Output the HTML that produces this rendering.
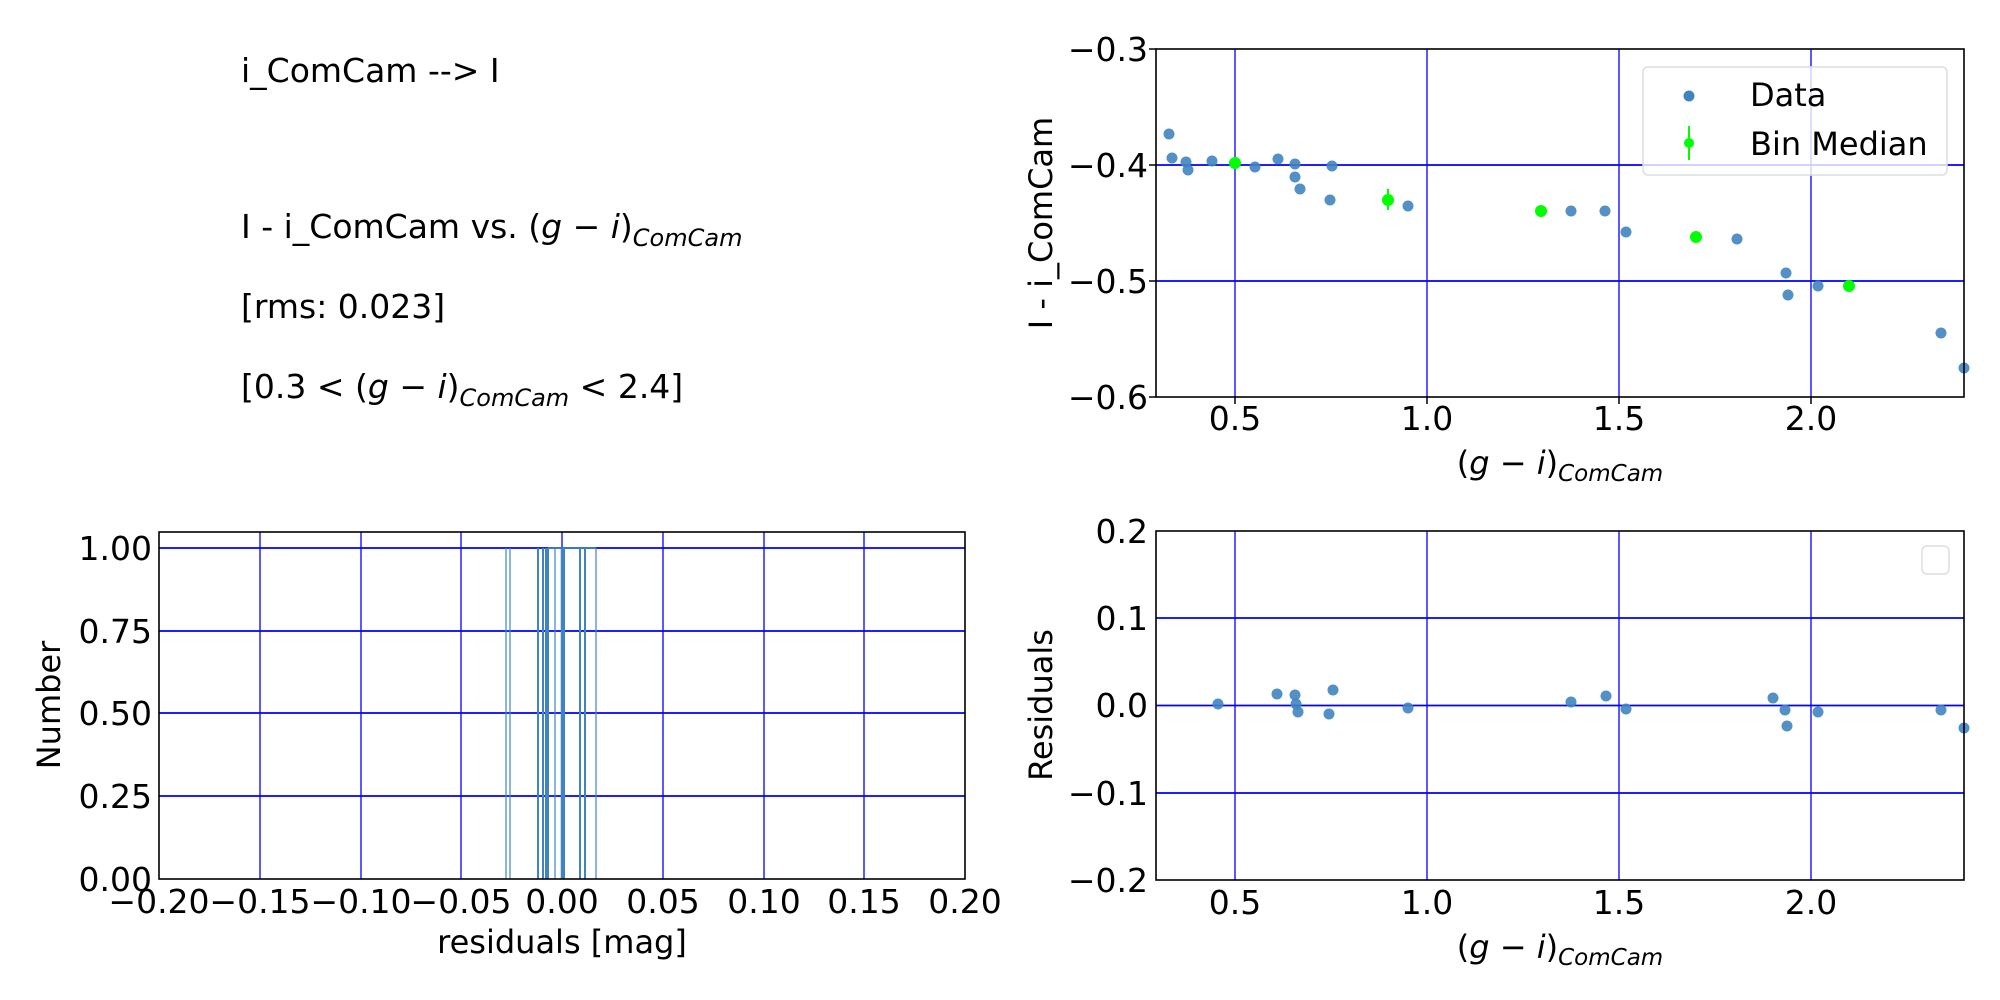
<!DOCTYPE html>
<html><head><meta charset="utf-8"><style>
html,body{margin:0;padding:0;background:#fff;width:2000px;height:1000px;overflow:hidden}
svg{display:block}
text{font-family:"DejaVu Sans","Liberation Sans",sans-serif;fill:#000}
.t{font-size:33px}
.k{font-size:33px}
.l{font-size:32px}
</style></head><body>
<svg width="2000" height="1000" viewBox="0 0 2000 1000" xmlns="http://www.w3.org/2000/svg">
<text class="t" x="241" y="82">i_ComCam --&gt; I</text>
<text class="t" x="241" y="238">I - i_ComCam vs. (<tspan font-style="italic">g</tspan> − <tspan font-style="italic">i</tspan>)<tspan font-style="italic" font-size="24" dy="8">ComCam</tspan></text>
<text class="t" x="241" y="318">[rms: 0.023]</text>
<text class="t" x="241" y="398">[0.3 &lt; (<tspan font-style="italic">g</tspan> − <tspan font-style="italic">i</tspan>)<tspan font-style="italic" font-size="24" dy="8">ComCam</tspan><tspan dy="-8"> &lt; 2.4]</tspan></text>

<!-- TOP RIGHT -->
<g stroke="#0000ff" stroke-width="1.3">
<line x1="1235" y1="49" x2="1235" y2="397"/><line x1="1427" y1="49" x2="1427" y2="397"/>
<line x1="1619" y1="49" x2="1619" y2="397"/><line x1="1811" y1="49" x2="1811" y2="397"/>
<line x1="1156" y1="165" x2="1964" y2="165" stroke-width="1.8"/><line x1="1156" y1="281" x2="1964" y2="281" stroke-width="1.8"/>
</g>
<g fill="#3f84c0" fill-opacity="0.9">
<circle cx="1169" cy="134" r="5.5"/><circle cx="1172" cy="158" r="5.5"/><circle cx="1186" cy="162" r="5.5"/><circle cx="1188" cy="170" r="5.5"/>
<circle cx="1212" cy="161" r="5.5"/><circle cx="1255" cy="167" r="5.5"/><circle cx="1278" cy="159" r="5.5"/><circle cx="1295" cy="164" r="5.5"/>
<circle cx="1295" cy="177" r="5.5"/><circle cx="1300" cy="189" r="5.5"/><circle cx="1332" cy="166" r="5.5"/><circle cx="1330" cy="200" r="5.5"/>
<circle cx="1408" cy="206" r="5.5"/><circle cx="1571" cy="211" r="5.5"/><circle cx="1605" cy="211" r="5.5"/><circle cx="1626" cy="232" r="5.5"/>
<circle cx="1737" cy="239" r="5.5"/><circle cx="1786" cy="273" r="5.5"/><circle cx="1788" cy="295" r="5.5"/><circle cx="1818" cy="286" r="5.5"/>
<circle cx="1941" cy="333" r="5.5"/><circle cx="1964" cy="368" r="5.5"/>
</g>
<g fill="#00ff00" stroke="#00ff00" stroke-width="2">
<circle cx="1235" cy="163" r="5"/><circle cx="1388" cy="200" r="5"/><line x1="1388" y1="189" x2="1388" y2="210"/>
<circle cx="1541" cy="211" r="5"/><circle cx="1696" cy="237" r="5"/><circle cx="1849" cy="286" r="5"/>
</g>
<rect x="1156" y="49" width="808" height="348" fill="none" stroke="#000" stroke-width="1.6"/>
<rect x="1643" y="67" width="304" height="108" rx="5" fill="#fff" fill-opacity="0.8" stroke="#ddd" stroke-width="1.5"/>
<circle cx="1689" cy="96" r="5.5" fill="#3f84c0"/>
<text class="l" x="1750" y="106">Data</text>
<line x1="1689" y1="126" x2="1689" y2="160" stroke="#00ff00" stroke-width="2"/><circle cx="1689" cy="143" r="5" fill="#00ff00"/>
<text class="l" x="1750" y="155">Bin Median</text>
<g class="k" text-anchor="end">
<text x="1148" y="61">−0.3</text><text x="1148" y="177">−0.4</text><text x="1148" y="293">−0.5</text><text x="1148" y="409">−0.6</text>
</g>
<g stroke="#000" stroke-width="1.5"><line x1="1149" y1="49" x2="1156" y2="49"/><line x1="1149" y1="165" x2="1156" y2="165"/><line x1="1149" y1="281" x2="1156" y2="281"/><line x1="1149" y1="397" x2="1156" y2="397"/>
<line x1="1235" y1="397" x2="1235" y2="404"/><line x1="1427" y1="397" x2="1427" y2="404"/><line x1="1619" y1="397" x2="1619" y2="404"/><line x1="1811" y1="397" x2="1811" y2="404"/></g>
<g class="k" text-anchor="middle">
<text x="1235" y="430">0.5</text><text x="1427" y="430">1.0</text><text x="1619" y="430">1.5</text><text x="1811" y="430">2.0</text>
</g>
<text class="l" x="1560" y="474" text-anchor="middle">(<tspan font-style="italic">g</tspan> − <tspan font-style="italic">i</tspan>)<tspan font-style="italic" font-size="23" dy="7">ComCam</tspan></text>
<text class="l" x="1052" y="223" text-anchor="middle" transform="rotate(-90 1052 223)">I - i_ComCam</text>

<!-- BOTTOM LEFT -->
<g stroke="#0000ff" stroke-width="1.3">
<line x1="260" y1="532" x2="260" y2="879"/><line x1="361" y1="532" x2="361" y2="879"/><line x1="461" y1="532" x2="461" y2="879"/>
<line x1="562" y1="532" x2="562" y2="879"/><line x1="663" y1="532" x2="663" y2="879"/><line x1="764" y1="532" x2="764" y2="879"/>
<line x1="864" y1="532" x2="864" y2="879"/>
<line x1="159" y1="548" x2="965" y2="548" stroke-width="1.8"/><line x1="159" y1="631" x2="965" y2="631" stroke-width="1.8"/>
<line x1="159" y1="713" x2="965" y2="713" stroke-width="1.8"/><line x1="159" y1="796" x2="965" y2="796" stroke-width="1.8"/>
</g>
<g stroke="#3f84c0" stroke-width="1.2">
<line x1="506" y1="548" x2="506" y2="879"/><line x1="510" y1="548" x2="510" y2="879"/><line x1="538" y1="548" x2="538" y2="879" stroke-width="2"/>
<line x1="543" y1="548" x2="543" y2="879" stroke-width="2"/><line x1="546" y1="548" x2="546" y2="879" stroke-width="2"/><line x1="548" y1="548" x2="548" y2="879" stroke-width="2"/>
<line x1="555" y1="548" x2="555" y2="879"/><line x1="562" y1="548" x2="562" y2="879" stroke-width="2.5"/><line x1="564" y1="548" x2="564" y2="879" stroke-width="2"/>
<line x1="580" y1="548" x2="580" y2="879" stroke-width="2"/><line x1="585" y1="548" x2="585" y2="879" stroke-width="2"/><line x1="596" y1="548" x2="596" y2="879"/>
<line x1="548" y1="548" x2="596" y2="548" stroke-width="1.5"/>
</g>
<rect x="159" y="532" width="806" height="347" fill="none" stroke="#000" stroke-width="1.6"/>
<g class="k" text-anchor="end">
<text x="152" y="560">1.00</text><text x="152" y="643">0.75</text><text x="152" y="725">0.50</text><text x="152" y="808">0.25</text><text x="152" y="891">0.00</text>
</g>
<g class="k" text-anchor="middle">
<text x="159" y="913">−0.20</text><text x="260" y="913">−0.15</text><text x="361" y="913">−0.10</text><text x="461" y="913">−0.05</text>
<text x="562" y="913">0.00</text><text x="663" y="913">0.05</text><text x="764" y="913">0.10</text><text x="864" y="913">0.15</text><text x="965" y="913">0.20</text>
</g>
<text class="l" x="562" y="953" text-anchor="middle">residuals [mag]</text>
<text class="l" x="60" y="705" text-anchor="middle" transform="rotate(-90 60 705)">Number</text>

<!-- BOTTOM RIGHT -->
<g stroke="#0000ff" stroke-width="1.3">
<line x1="1235" y1="531" x2="1235" y2="880"/><line x1="1427" y1="531" x2="1427" y2="880"/>
<line x1="1619" y1="531" x2="1619" y2="880"/><line x1="1811" y1="531" x2="1811" y2="880"/>
<line x1="1156" y1="618" x2="1964" y2="618" stroke-width="1.8"/><line x1="1156" y1="705.5" x2="1964" y2="705.5" stroke-width="1.8"/><line x1="1156" y1="793" x2="1964" y2="793" stroke-width="1.8"/>
</g>
<g fill="#3f84c0" fill-opacity="0.9">
<circle cx="1218" cy="704" r="5.5"/><circle cx="1277" cy="694" r="5.5"/><circle cx="1295" cy="695" r="5.5"/><circle cx="1296" cy="704" r="5.5"/>
<circle cx="1298" cy="712" r="5.5"/><circle cx="1329" cy="714" r="5.5"/><circle cx="1333" cy="690" r="5.5"/><circle cx="1408" cy="708" r="5.5"/>
<circle cx="1571" cy="702" r="5.5"/><circle cx="1606" cy="696" r="5.5"/><circle cx="1626" cy="709" r="5.5"/><circle cx="1773" cy="698" r="5.5"/>
<circle cx="1785" cy="710" r="5.5"/><circle cx="1787" cy="726" r="5.5"/><circle cx="1818" cy="712" r="5.5"/><circle cx="1941" cy="710" r="5.5"/>
<circle cx="1964" cy="728" r="5.5"/>
</g>
<rect x="1156" y="531" width="808" height="349" fill="none" stroke="#000" stroke-width="1.6"/>
<rect x="1922" y="546" width="27" height="28" rx="5" fill="#fff" stroke="#ddd" stroke-width="1.5"/>
<g class="k" text-anchor="end">
<text x="1148" y="543">0.2</text><text x="1148" y="630">0.1</text><text x="1148" y="717">0.0</text><text x="1148" y="805">−0.1</text><text x="1148" y="892">−0.2</text>
</g>
<g class="k" text-anchor="middle">
<text x="1235" y="914">0.5</text><text x="1427" y="914">1.0</text><text x="1619" y="914">1.5</text><text x="1811" y="914">2.0</text>
</g>
<text class="l" x="1560" y="958" text-anchor="middle">(<tspan font-style="italic">g</tspan> − <tspan font-style="italic">i</tspan>)<tspan font-style="italic" font-size="23" dy="7">ComCam</tspan></text>
<text class="l" x="1052" y="705" text-anchor="middle" transform="rotate(-90 1052 705)">Residuals</text>
</svg>
</body></html>
